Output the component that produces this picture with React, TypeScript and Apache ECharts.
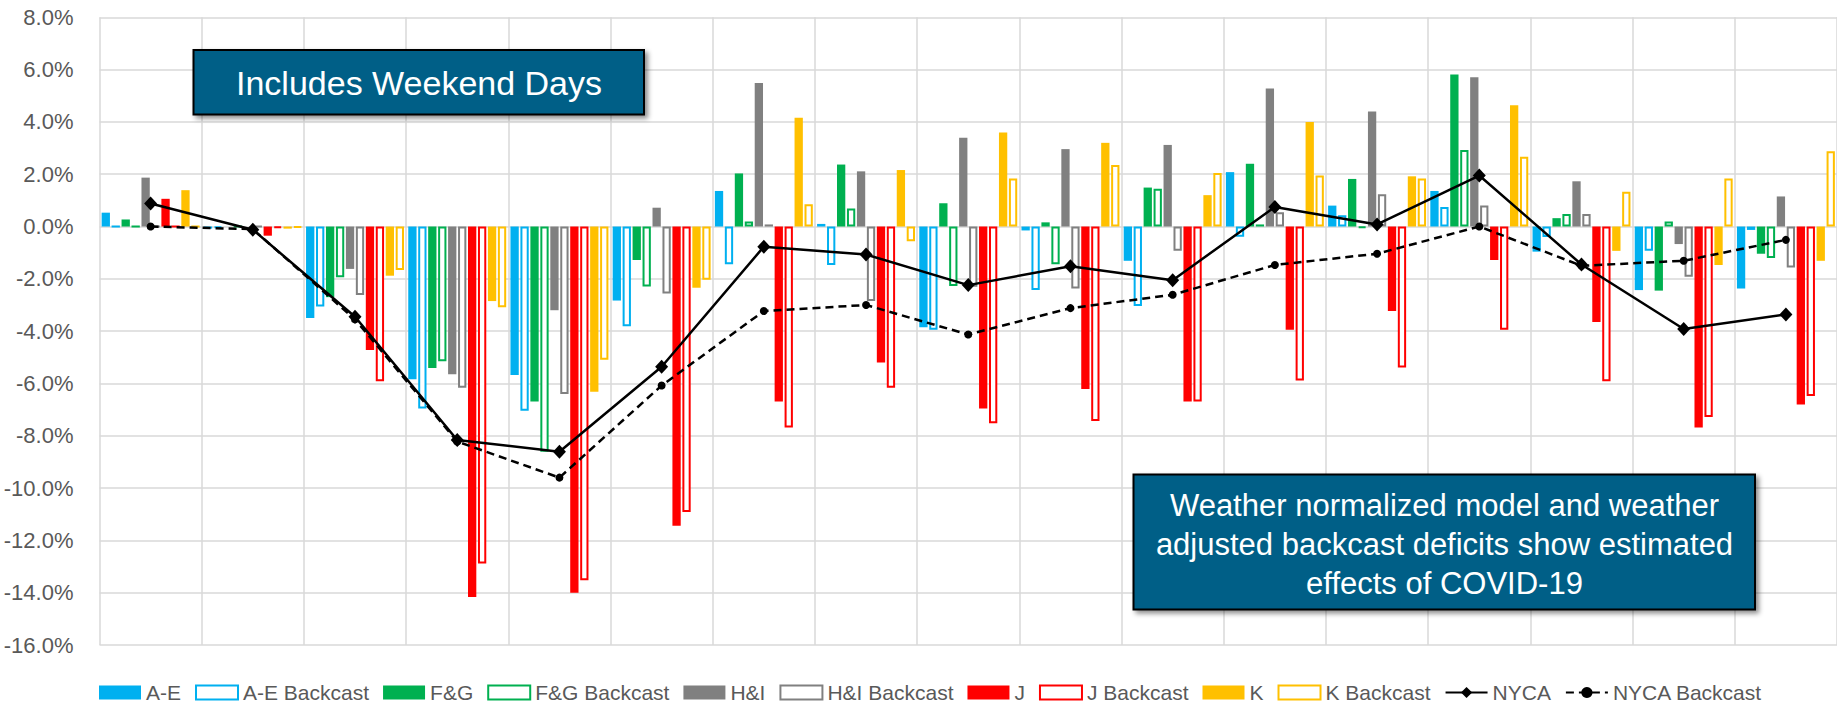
import React, { useEffect, useRef } from 'react';
import * as echarts from 'echarts';

const categories = ['Wk 1', 'Wk 2', 'Wk 3', 'Wk 4', 'Wk 5', 'Wk 6', 'Wk 7', 'Wk 8', 'Wk 9', 'Wk 10', 'Wk 11', 'Wk 12', 'Wk 13', 'Wk 14', 'Wk 15', 'Wk 16', 'Wk 17'];

const aeValues = [0.53, -0.08, -3.5, -5.84, -5.68, -2.83, 1.36, 0.1, -3.85, -0.15, -1.31, 2.08, 0.8, 1.36, -0.96, -2.43, -2.37];
const aeBackcast = [0, -0.05, -3.06, -6.96, -7.04, -3.81, -1.44, -1.47, -3.95, -2.43, -3.04, -0.39, 0.43, 0.75, -0.4, -0.93, -0.13];
const fgValues = [0.27, 0, -2.7, -5.41, -6.69, -1.28, 2.03, 2.37, 0.89, 0.16, 1.49, 2.4, 1.82, 5.81, 0.32, -2.45, -1.04];
const fgBackcast = [0, 0, -1.94, -5.15, -8.61, -2.29, 0.19, 0.69, -2.27, -1.44, 1.44, 0.08, -0.05, 2.93, 0.48, 0.19, -1.2];
const hiValues = [1.87, 0, -1.62, -5.65, -3.2, 0.72, 5.49, 2.11, 3.39, 2.96, 3.12, 5.28, 4.4, 5.71, 1.73, -0.67, 1.15];
const hiBackcast = [0, 0, -2.62, -6.16, -6.4, -2.56, 0.08, -2.85, -2.3, -2.37, -0.93, 0.55, 1.23, 0.8, 0.48, -1.92, -1.57];
const jValues = [1.06, -0.35, -4.72, -14.16, -14.0, -11.44, -6.69, -5.2, -6.96, -6.21, -6.69, -3.95, -3.23, -1.28, -3.65, -7.68, -6.8];
const jBackcast = [0, -0.05, -5.92, -12.88, -13.52, -10.91, -7.68, -6.16, -7.52, -7.44, -6.69, -5.89, -5.39, -3.95, -5.92, -7.28, -6.48];
const kValues = [1.39, -0.08, -1.88, -2.85, -6.32, -2.34, 4.16, 2.16, 3.6, 3.2, 1.2, 4.0, 1.92, 4.64, -0.93, -1.47, -1.31];
const kBackcast = [0, -0.03, -1.66, -3.09, -5.09, -2.03, 0.85, -0.56, 1.84, 2.35, 2.05, 1.95, 1.84, 2.67, 1.33, 1.84, 2.88];
const nycaValues = [0.88, -0.12, -3.45, -8.16, -8.61, -5.36, -0.77, -1.07, -2.24, -1.52, -2.05, 0.75, 0.08, 1.95, -1.45, -3.92, -3.36];
const nycaBackcast = [0, -0.1, -3.55, -8.22, -9.6, -6.08, -3.23, -3.0, -4.13, -3.12, -2.61, -1.47, -1.04, 0, -1.5, -1.31, -0.51];

const FONT = '"Liberation Sans", Arial, sans-serif';
const GRID_COLOR = '#d9d9d9';
const TEXT_COLOR = '#595959';
const BOX_FILL = '#035E87';

function barSeries(name: string, data: number[], color: string, backcast: boolean) {
  return {
    type: 'bar',
    name,
    data,
    barWidth: 8.3,
    barGap: '20%',
    itemStyle: backcast
      ? { color: '#ffffff', borderColor: color, borderWidth: 2 }
      : { color },
    emphasis: { disabled: true },
  };
}

export default function App() {
  const ref = useRef<HTMLDivElement>(null);

  useEffect(() => {
    const chart = echarts.init(ref.current as HTMLDivElement, null, { renderer: 'svg' });
    const option: any = {
      animation: false,
      backgroundColor: '#ffffff',
      textStyle: { fontFamily: FONT },
      grid: { left: 99.5, right: -4, top: 17.3, bottom: 60, containLabel: false },
      xAxis: {
        type: 'category',
        data: categories,
        axisLabel: { show: false },
        axisTick: { show: false },
        axisLine: { show: false },
        splitLine: { show: true, interval: 0, lineStyle: { color: GRID_COLOR, width: 1.5 } },
      },
      yAxis: {
        type: 'value',
        min: -16,
        max: 8,
        interval: 2,
        axisLine: { show: false },
        axisTick: { show: false },
        axisLabel: {
          formatter: (v: number) => v.toFixed(1) + '%',
          fontSize: 22,
          color: TEXT_COLOR,
          fontFamily: FONT,
          margin: 26,
        },
        splitLine: { lineStyle: { color: GRID_COLOR, width: 1.5 } },
      },
      legend: {
        left: 94,
        top: 677,
        itemWidth: 42,
        itemHeight: 14,
        itemGap: 14,
        textStyle: { fontSize: 21, color: TEXT_COLOR, fontFamily: FONT },
        data: [
          { name: 'A-E', icon: 'rect' },
          { name: 'A-E Backcast', icon: 'rect' },
          { name: 'F&G', icon: 'rect' },
          { name: 'F&G Backcast', icon: 'rect' },
          { name: 'H&I', icon: 'rect' },
          { name: 'H&I Backcast', icon: 'rect' },
          { name: 'J', icon: 'rect' },
          { name: 'J Backcast', icon: 'rect' },
          { name: 'K', icon: 'rect' },
          { name: 'K Backcast', icon: 'rect' },
          { name: 'NYCA' },
          { name: 'NYCA Backcast' },
        ],
      },
      series: [
        barSeries('A-E', aeValues, '#00B0F0', false),
        barSeries('A-E Backcast', aeBackcast, '#00B0F0', true),
        barSeries('F&G', fgValues, '#00B050', false),
        barSeries('F&G Backcast', fgBackcast, '#00B050', true),
        barSeries('H&I', hiValues, '#808080', false),
        barSeries('H&I Backcast', hiBackcast, '#808080', true),
        barSeries('J', jValues, '#FF0000', false),
        barSeries('J Backcast', jBackcast, '#FF0000', true),
        barSeries('K', kValues, '#FFC000', false),
        barSeries('K Backcast', kBackcast, '#FFC000', true),
        {
          type: 'line',
          name: 'NYCA',
          data: nycaValues,
          symbol: 'diamond',
          symbolSize: [13, 14],
          itemStyle: { color: '#000000' },
          lineStyle: { color: '#000000', width: 2.5 },
          emphasis: { disabled: true },
          z: 5,
        },
        {
          type: 'line',
          name: 'NYCA Backcast',
          data: nycaBackcast,
          symbol: 'circle',
          symbolSize: 8,
          itemStyle: { color: '#000000' },
          lineStyle: { color: '#000000', width: 2.5, type: [8, 5] },
          emphasis: { disabled: true },
          z: 5,
        },
      ],
      graphic: [
        {
          type: 'rect',
          z: 100,
          shape: { x: 193.5, y: 50, width: 450.5, height: 64.5 },
          style: {
            fill: BOX_FILL,
            stroke: '#000000',
            lineWidth: 2,
            shadowBlur: 5,
            shadowOffsetX: 3,
            shadowOffsetY: 3,
            shadowColor: 'rgba(0,0,0,0.45)',
          },
        },
        {
          type: 'text',
          z: 101,
          x: 419,
          y: 83,
          style: {
            text: 'Includes Weekend Days',
            fill: '#ffffff',
            font: `34px ${FONT}`,
            align: 'center',
            verticalAlign: 'middle',
          },
        },
        {
          type: 'rect',
          z: 100,
          shape: { x: 1133.5, y: 474.5, width: 621.5, height: 135 },
          style: {
            fill: BOX_FILL,
            stroke: '#000000',
            lineWidth: 2,
            shadowBlur: 5,
            shadowOffsetX: 3,
            shadowOffsetY: 3,
            shadowColor: 'rgba(0,0,0,0.45)',
          },
        },
        {
          type: 'text',
          z: 101,
          x: 1444.5,
          y: 544,
          style: {
            text: 'Weather normalized model and weather\nadjusted backcast deficits show estimated\neffects of COVID-19',
            fill: '#ffffff',
            font: `31px ${FONT}`,
            lineHeight: 39,
            align: 'center',
            verticalAlign: 'middle',
          },
        },
      ],
    };
    chart.setOption(option);
    return () => chart.dispose();
  }, []);

  return (
    <div
      ref={ref}
      style={{ position: 'absolute', left: 0, top: 0, width: 1837, height: 705, background: '#ffffff' }}
    />
  );
}
